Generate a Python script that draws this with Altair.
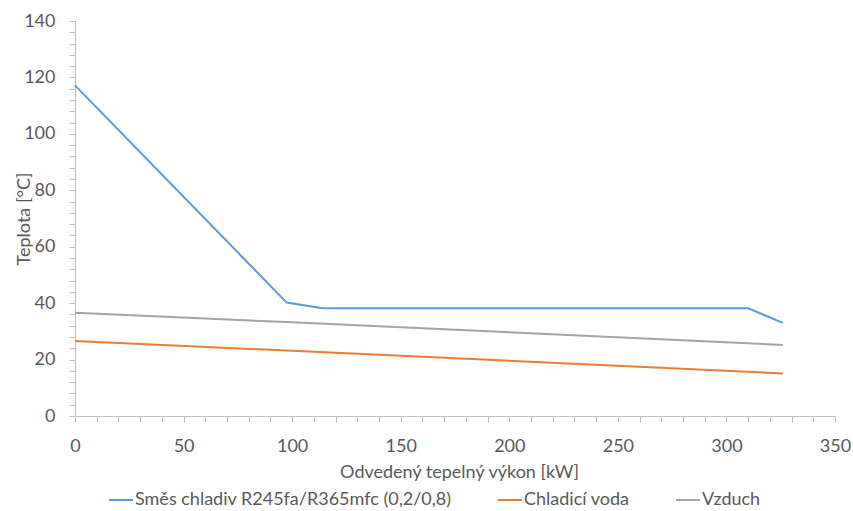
import altair as alt
import pandas as pd

# Series data
series_names = ["Směs chladiv R245fa/R365mfc (0,2/0,8)", "Chladicí voda", "Vzduch"]
series_colors = ["#5b9bd5", "#ed7d31", "#a5a5a5"]

mix_x = [0, 97.5, 114, 310, 326]
mix_y = [117.2, 40.2, 38.2, 38.2, 33.0]

water_x = [0, 100, 326]
water_y = [26.6, 23.1, 15.1]

air_x = [0, 100, 326]
air_y = [36.6, 33.2, 25.2]

x_ticks = list(range(0, 351, 10))
y_ticks = list(range(0, 141, 4))

rows = []
for name, xs, ys in [(series_names[0], mix_x, mix_y),
                     (series_names[1], water_x, water_y),
                     (series_names[2], air_x, air_y)]:
    for i, (xv, yv) in enumerate(zip(xs, ys)):
        rows.append({"series": name, "x": xv, "y": yv, "order": i})
df = pd.DataFrame(rows)

FONT = "Lato"
TEXT = "#595959"
AXIS = "#bfbfbf"

chart = alt.Chart(df).mark_line(strokeWidth=2).encode(
    x=alt.X("x:Q",
            scale=alt.Scale(domain=[0, 350], nice=False, zero=False),
            axis=alt.Axis(title="Odvedený tepelný výkon [kW]",
                          values=x_ticks,
                          labelExpr="datum.value % 50 === 0 ? datum.label : ''",
                          labelOverlap=False,
                          labelFlush=False,
                          grid=False,
                          tickSize=6, labelPadding=15,
                          titleY=47, titleBaseline="top",
                          titleX=384)),
    y=alt.Y("y:Q",
            scale=alt.Scale(domain=[0, 140], nice=False),
            axis=alt.Axis(title="Teplota [°C]",
                          values=y_ticks,
                          labelExpr="datum.value % 20 === 0 ? datum.label : ''",
                          labelOverlap=False,
                          labelFlush=False,
                          grid=False,
                          tickSize=6, labelPadding=14,
                          titleX=-46, titleBaseline="alphabetic")),
    color=alt.Color("series:N",
                    scale=alt.Scale(domain=series_names, range=series_colors),
                    sort=series_names,
                    legend=alt.Legend(title=None, orient="none",
                                      direction="horizontal",
                                      legendX=33, legendY=466,
                                      symbolType="stroke",
                                      symbolSize=576,
                                      symbolStrokeWidth=2,
                                      labelOffset=1,
                                      columnPadding=42,
                                      labelLimit=1000,
                                      labelFont=FONT, labelFontSize=18,
                                      labelColor=TEXT)),
    order="order:Q",
).properties(
    width=760, height=395,
    background="white",
    autosize=alt.AutoSizeParams(type="none"),
    padding={"left": 75, "top": 21, "right": 18, "bottom": 95},
).configure_view(stroke=None).configure_axis(
    domainColor=AXIS, tickColor=AXIS, domainWidth=1, tickWidth=1,
    labelFont=FONT, labelFontSize=18, labelColor=TEXT,
    titleFont=FONT, titleFontSize=18, titleColor=TEXT, titleFontWeight="normal",
)

chart.save("out.html", embed_options={"renderer": "svg", "actions": False})
